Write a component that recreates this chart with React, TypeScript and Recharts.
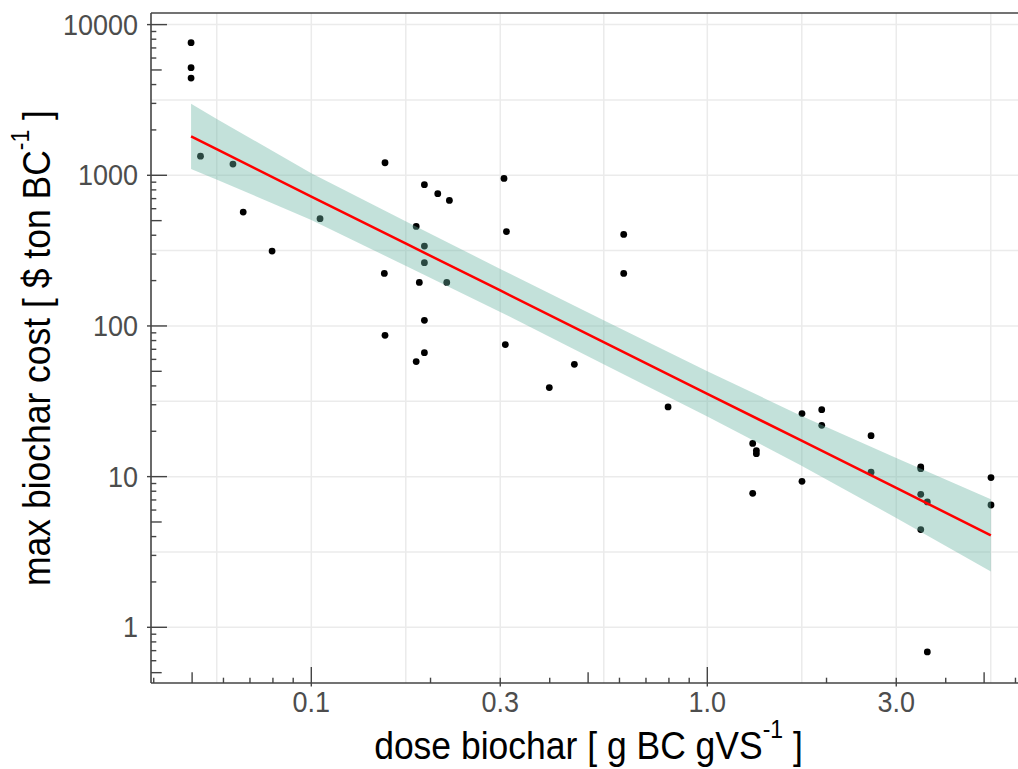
import React from 'react';
import { ComposedChart, Scatter, Line, Area, XAxis, YAxis, ReferenceLine } from 'recharts';

// observed points: dose biochar [g BC / gVS] vs max biochar cost [$ / ton BC]
const doseObs = [
  0.0497, 0.0497, 0.0497, 0.0525, 0.0634, 0.0673, 0.0796, 0.1052,
  0.1535, 0.1529, 0.1535, 0.193, 0.2086, 0.2232, 0.184, 0.193,
  0.193, 0.1874, 0.2198, 0.193, 0.193, 0.184, 0.3066, 0.311,
  0.309, 0.615, 0.615, 0.4616, 0.399, 0.796, 1.302, 1.33,
  1.33, 1.302, 1.734, 1.734, 1.945, 1.945, 2.591, 2.591,
  3.459, 3.459, 3.459, 3.594, 3.459, 3.594, 5.204, 5.204,
];
const costObs = [
  7586, 5176, 4418, 1340, 1186, 570, 314, 515,
  1211, 223, 86.6, 866, 755, 681, 458, 339,
  263, 194.6, 194.6, 109, 66.5, 58, 953, 423,
  75.2, 405, 223, 55.6, 39, 29, 16.6, 14.9,
  14.2, 7.75, 26.2, 9.3, 27.8, 21.9, 18.7, 10.7,
  11.6, 11.3, 7.63, 6.79, 4.45, 0.686, 9.85, 6.48,
];

// fitted line and confidence band, read at these doses
const fitDose = [0.0497, 0.058, 0.1, 0.174, 0.3, 0.544, 1.0, 1.725, 3.0, 5.2];
const fitCost = [1811, 1479, 722, 350, 172, 78.7, 35.4, 17.4, 8.41, 4.08];
const bandLow = [1099, 931, 505, 249, 124, 56.2, 25.1, 11.85, 5.32, 2.35];
const bandHigh = [2987, 2349, 1033, 492, 239, 110, 50.0, 25.4, 13.3, 7.07];

const xBreaks = [0.1, 0.3, 1, 3];
const xBreakLabels = ['0.1', '0.3', '1.0', '3.0'];
const yBreaks = [1, 10, 100, 1000, 10000];
const yBreakLabels = ['1', '10', '100', '1000', '10000'];

const xLogTicks = [
  0.04, 0.05, 0.06, 0.07, 0.08, 0.09, 0.1, 0.2, 0.3, 0.4, 0.5, 0.6, 0.7, 0.8, 0.9,
  1, 2, 3, 4, 5, 6,
];
const yLogTicks = [
  0.5, 0.6, 0.7, 0.8, 0.9, 1, 2, 3, 4, 5, 6, 7, 8, 9,
  10, 20, 30, 40, 50, 60, 70, 80, 90, 100, 200, 300, 400, 500, 600, 700, 800, 900,
  1000, 2000, 3000, 4000, 5000, 6000, 7000, 8000, 9000, 10000,
];
const decades = [0.1, 1, 10, 100, 1000, 10000];
const fives = [0.05, 0.5, 5, 50, 500, 5000];

const xGrid = [0.0577, 0.1, 0.1732, 0.3, 0.5477, 1, 1.732, 3, 5.196];
const yGrid = [1, 3.162, 10, 31.62, 100, 316.2, 1000, 3162, 10000];

const xDomain = [0.03937, 6.089];
const yDomain = [0.4269, 11940];

const FONT = '"Liberation Sans", Arial, Helvetica, sans-serif';
const AXIS = '#444444';
const GRID = '#EBEBEB';

const points = doseObs.map((x, i) => ({ x, y: costObs[i] }));
const fitData = fitDose.map((x, i) => ({ x, fit: fitCost[i], band: [bandLow[i], bandHigh[i]] }));

const tickLen = (v: number) => (decades.includes(v) ? 16 : fives.includes(v) ? 10.7 : 5.3);

const XTick = (props: any) => {
  const { x, y, payload } = props;
  const v = payload.value;
  const b = xBreaks.indexOf(v);
  return (
    <g>
      <line x1={x} x2={x} y1={y - tickLen(v)} y2={y + (b >= 0 ? 3.5 : 0)} stroke={AXIS} strokeWidth={1.4} />
      {b >= 0 && (
        <text
          transform={`translate(${x}, ${y + 28.5}) scale(1, 1.06)`}
          textAnchor="middle"
          fontSize={27}
          fontFamily={FONT}
          fill="#4D4D4D"
        >
          {xBreakLabels[b]}
        </text>
      )}
    </g>
  );
};

const YTick = (props: any) => {
  const { x, y, payload } = props;
  const v = payload.value;
  const b = yBreaks.indexOf(v);
  return (
    <g>
      <line x1={x - (b >= 0 ? 4 : 0)} x2={x + tickLen(v)} y1={y} y2={y} stroke={AXIS} strokeWidth={1.4} />
      {b >= 0 && (
        <text
          transform={`translate(${x - 13}, ${y + 10}) scale(1, 1.06)`}
          textAnchor="end"
          fontSize={27}
          fontFamily={FONT}
          fill="#4D4D4D"
        >
          {yBreakLabels[b]}
        </text>
      )}
    </g>
  );
};

const XTitle = (props: any) => {
  const vb = props.viewBox;
  return (
    <text
      transform={`translate(${vb.x + vb.width / 2 + 4}, 759) scale(1, 1.1)`}
      textAnchor="middle"
      fontSize={35.5}
      fontFamily={FONT}
      fill="#000"
    >
      dose biochar [ g BC gVS
      <tspan dy={-19} fontSize={23}>-1</tspan>
      <tspan dy={19}>{' ]'}</tspan>
    </text>
  );
};

const YTitle = (props: any) => {
  const vb = props.viewBox;
  const cy = vb.y + vb.height / 2;
  return (
    <text
      transform={`translate(50, ${cy}) rotate(-90) scale(1, 1.1)`}
      textAnchor="middle"
      fontSize={35.5}
      fontFamily={FONT}
      fill="#000"
    >
      max biochar cost [ $ ton BC
      <tspan dy={-19} fontSize={23}>-1</tspan>
      <tspan dy={19}>{' ]'}</tspan>
    </text>
  );
};

const App: React.FC = () => {
  return (
    <div style={{ position: 'absolute', left: 0, top: 0, width: 1018, height: 769, background: '#fff' }}>
      <ComposedChart width={1018} height={769} data={fitData} margin={{ top: 13, right: 0, bottom: 0, left: 0 }}>
        <XAxis
          dataKey="x"
          type="number"
          scale="log"
          domain={xDomain}
          allowDataOverflow
          ticks={xLogTicks}
          interval={0}
          tickSize={0}
          tickMargin={0}
          tickLine={false}
          tick={<XTick />}
          axisLine={{ stroke: AXIS, strokeWidth: 1.6 }}
          height={86}
          label={{ content: <XTitle /> }}
        />
        <YAxis
          type="number"
          scale="log"
          domain={yDomain}
          allowDataOverflow
          ticks={yLogTicks}
          interval={0}
          tickSize={0}
          tickMargin={0}
          tickLine={false}
          tick={<YTick />}
          axisLine={{ stroke: AXIS, strokeWidth: 1.6 }}
          width={151}
          label={{ content: <YTitle /> }}
        />

        {xGrid.map((v) => (
          <ReferenceLine key={'gx' + v} x={v} stroke={GRID} strokeWidth={1.5} zIndex={-50} />
        ))}
        {yGrid.map((v) => (
          <ReferenceLine key={'gy' + v} y={v} stroke={GRID} strokeWidth={1.5} zIndex={-50} />
        ))}

        <Scatter
          data={points}
          dataKey="y"
          isAnimationActive={false}
          zIndex={50}
          shape={(p: any) => <circle cx={p.cx} cy={p.cy} r={3.4} fill="#000" />}
        />
        <Area
          type="linear"
          dataKey="band"
          stroke="none"
          fill="#69b3a2"
          fillOpacity={0.4}
          isAnimationActive={false}
          zIndex={100}
        />
        <Line
          type="linear"
          dataKey="fit"
          stroke="#FF0000"
          strokeWidth={2.5}
          dot={false}
          isAnimationActive={false}
          zIndex={400}
        />
        <ReferenceLine y={yDomain[1]} stroke={AXIS} strokeWidth={1.6} ifOverflow="visible" zIndex={500} />
      </ComposedChart>
    </div>
  );
};

export default App;
